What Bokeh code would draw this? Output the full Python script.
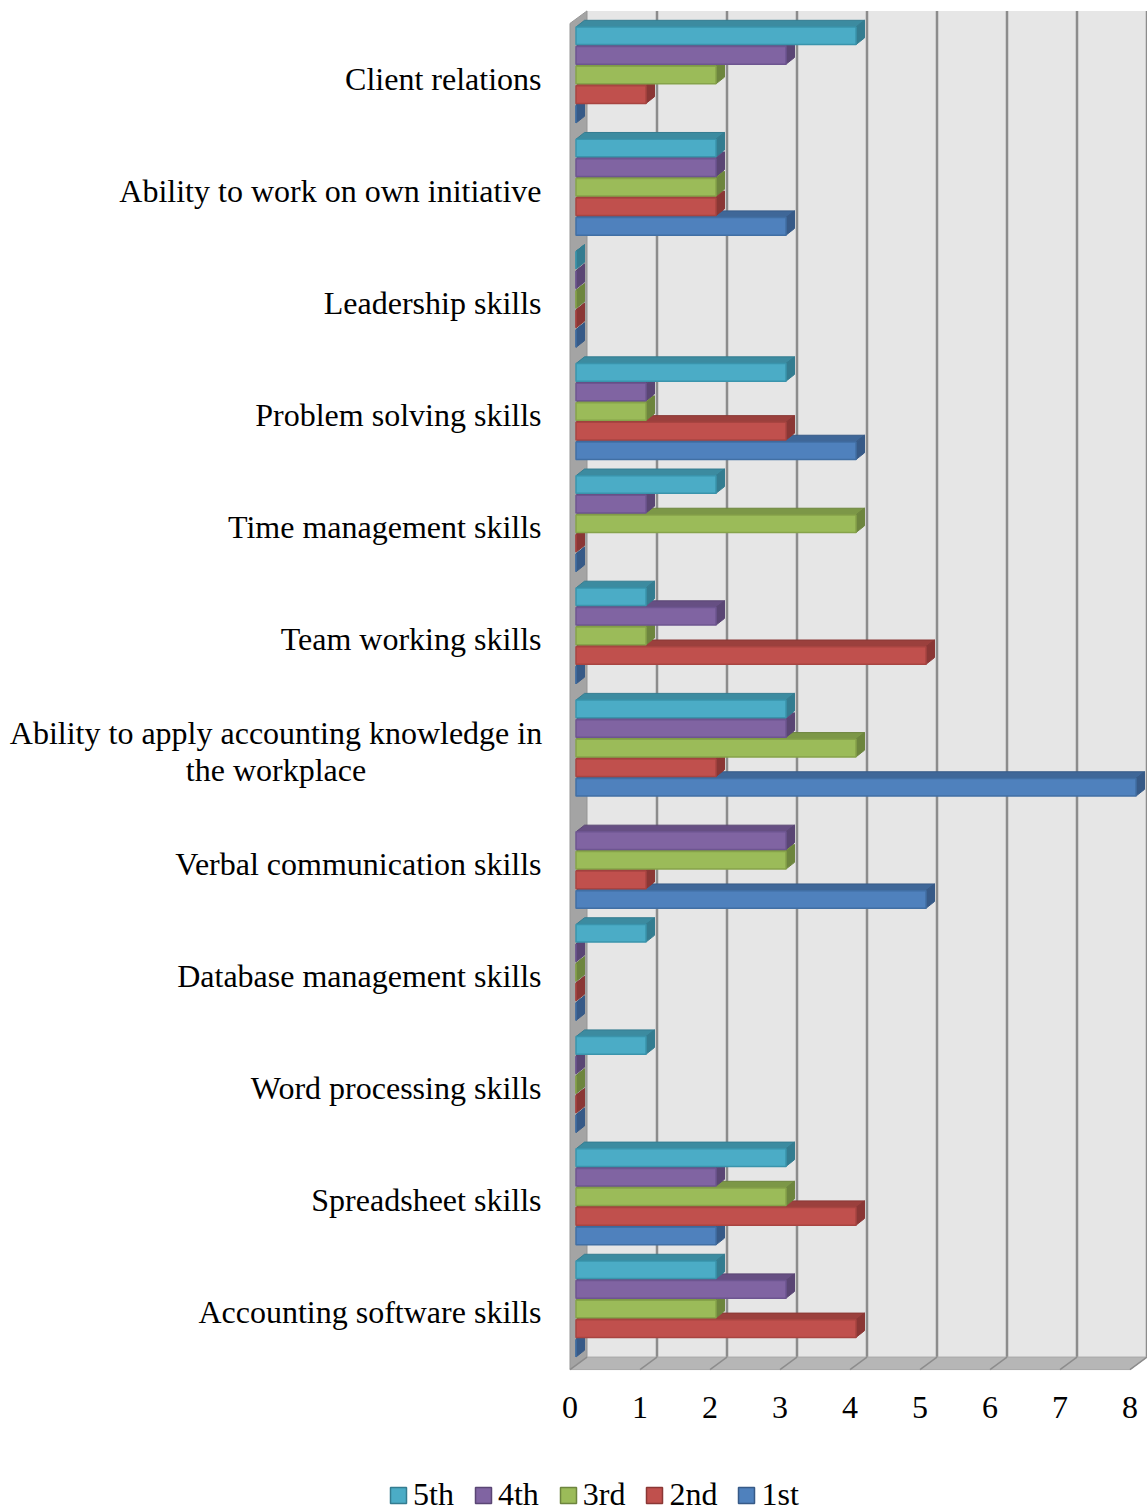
import math

from bokeh.core.properties import value
from bokeh.embed import file_html
from bokeh.layouts import column
from bokeh.models import ColumnDataSource, Legend, LegendItem, Range1d
from bokeh.plotting import figure
from bokeh.resources import INLINE

# ---------------------------------------------------------------- data
categories = [
    "Client relations",
    "Ability to work on own initiative",
    "Leadership skills",
    "Problem solving skills",
    "Time management skills",
    "Team working skills",
    "Ability to apply accounting knowledge in\nthe workplace",
    "Verbal communication skills",
    "Database management skills",
    "Word processing skills",
    "Spreadsheet skills",
    "Accounting software skills",
]
series_names = ["5th", "4th", "3rd", "2nd", "1st"]
vals_5th = [4, 2, 0, 3, 2, 1, 3, None, 1, 1, 3, 2]
vals_4th = [3, 2, 0, 1, 1, 2, 3, 3, 0, 0, 2, 3]
vals_3rd = [2, 2, 0, 1, 4, 1, 4, 3, 0, 0, 3, 2]
vals_2nd = [1, 2, 0, 3, 0, 5, 2, 1, 0, 0, 4, 4]
vals_1st = [0, 3, 0, 4, 0, 0, 8, 5, 0, 0, 2, 0]
x_ticks = [0, 1, 2, 3, 4, 5, 6, 7, 8]

series_values = [vals_5th, vals_4th, vals_3rd, vals_2nd, vals_1st]

# ---------------------------------------------------------------- styling
FONT = "Liberation Serif"
FONT_SIZE = "32px"
front_col = {"5th": "#4BACC6", "4th": "#8064A2", "3rd": "#9BBB59", "2nd": "#C0504D", "1st": "#4F81BD"}
top_col = {"5th": "#3C8BA0", "4th": "#664F83", "3rd": "#7C9747", "2nd": "#9B403D", "1st": "#3F6798"}
side_col = {"5th": "#347C90", "4th": "#5A4674", "3rd": "#6D853E", "2nd": "#8A3735", "1st": "#375A87"}
edge_col = {"5th": "#3A94AC", "4th": "#6D5590", "3rd": "#86A34A", "2nd": "#A84441", "1st": "#416FA4"}

WALL = "#E6E6E6"
SIDE_WALL = "#A4A4A4"
FLOOR = "#B6B6B6"
GRID = "#8C8C8C"

# ---------------------------------------------------------------- geometry
W = 1147
H_MAIN = 1440
H_LEGEND = 1512 - H_MAIN
FRAME_H = 1380

PX_X = 70.0      # pixels per value unit
PX_Y = 112.18    # pixels per category slot
X0_PX = 569.5    # pixel of value 0 on the front plane
TOP_PX = 79.0    # pixel of the first category centre

n_cat = len(categories)
x_max = x_ticks[-1]

# depth of the 3-D box (front plane -> back wall)
BOX_DX = 17.0 / PX_X
BOX_DY = 12.5 / PX_Y
# bars sit slightly behind the front plane and have their own depth
BAR_DX0 = 6.0 / PX_X
BAR_DY0 = 4.5 / PX_Y
BAR_DDX = 8.5 / PX_X
BAR_DDY = 6.7 / PX_Y
BAR_PITCH = 19.6 / PX_Y
BAR_H = 17.6 / PX_Y

LABEL_X = (541.0 - X0_PX) / PX_X
LABEL_DY = 1.0 / PX_Y

x_start = -X0_PX / PX_X
x_end = (W - X0_PX) / PX_X
y_end = (n_cat - 1) + TOP_PX / PX_Y
y_start = (n_cat - 1) - (FRAME_H - TOP_PX) / PX_Y

p = figure(
    width=W, height=H_MAIN,
    x_range=Range1d(x_start, x_end), y_range=Range1d(y_start, y_end),
    output_backend="svg", toolbar_location=None,
    y_axis_location=None,
    min_border_left=0, min_border_right=0, min_border_top=0,
    min_border_bottom=H_MAIN - FRAME_H,
)
p.grid.visible = False
p.outline_line_color = None
p.background_fill_color = "white"
p.border_fill_color = "white"

y_lo = -0.5
y_hi = n_cat - 0.5

# back wall with its vertical gridlines
p.quad(left=BOX_DX, right=x_max + BOX_DX, bottom=y_lo + BOX_DY, top=y_hi + BOX_DY,
       fill_color=WALL, line_color=None)
p.segment(x0=[k + BOX_DX for k in x_ticks[1:]], y0=[y_lo + BOX_DY] * (len(x_ticks) - 1),
          x1=[k + BOX_DX for k in x_ticks[1:]], y1=[y_hi + BOX_DY] * (len(x_ticks) - 1),
          line_color=GRID, line_width=2.5)

# left side wall
p.patch(x=[0, 0, BOX_DX, BOX_DX], y=[y_lo, y_hi, y_hi + BOX_DY, y_lo + BOX_DY],
        fill_color=SIDE_WALL, line_color="#959595", line_width=1)

# floor with slanted tick lines
p.patch(x=[0, x_max, x_max + BOX_DX, BOX_DX], y=[y_lo, y_lo, y_lo + BOX_DY, y_lo + BOX_DY],
        fill_color=FLOOR, line_color="#A8A8A8", line_width=1)
p.segment(x0=x_ticks, y0=[y_lo] * len(x_ticks),
          x1=[k + BOX_DX for k in x_ticks], y1=[y_lo + BOX_DY] * len(x_ticks),
          line_color=GRID, line_width=1.5)

# bars: draw bottom series first so upper bars overlap lower top faces
for j in reversed(range(len(series_names))):
    name = series_names[j]
    vals = series_values[j]
    ys, lefts, rights = [], [], []
    top_xs, top_ys, side_xs, side_ys = [], [], [], []
    for i, v in enumerate(vals):
        if v is None:
            continue
        yc = (n_cat - 1 - i) + BAR_DY0 + (2 - j) * BAR_PITCH
        L = BAR_DX0
        R = BAR_DX0 + v
        T = yc + BAR_H / 2
        B = yc - BAR_H / 2
        ys.append(yc)
        lefts.append(L)
        rights.append(R)
        top_xs.append([L, R, R + BAR_DDX, L + BAR_DDX])
        top_ys.append([T, T, T + BAR_DDY, T + BAR_DDY])
        side_xs.append([R, R, R + BAR_DDX, R + BAR_DDX])
        side_ys.append([B, T, T + BAR_DDY, B + BAR_DDY])
    p.patches(xs=top_xs, ys=top_ys, fill_color=top_col[name], line_color=side_col[name], line_width=1)
    p.patches(xs=side_xs, ys=side_ys, fill_color=side_col[name], line_color=side_col[name], line_width=1)
    p.hbar(y=ys, left=lefts, right=rights, height=BAR_H,
           fill_color=front_col[name], line_color=edge_col[name], line_width=1.5)

# category labels
single = [(c, n_cat - 1 - i) for i, c in enumerate(categories) if "\n" not in c]
multi = [(c, n_cat - 1 - i) for i, c in enumerate(categories) if "\n" in c]
p.text(x=[LABEL_X] * len(single), y=[y + LABEL_DY for _, y in single], text=[c for c, _ in single],
       text_align="right", text_baseline="middle",
       text_font=value(FONT), text_font_size=FONT_SIZE, text_color="black")
FIRST_LINE_W = 531.0 / PX_X
p.text(x=[LABEL_X - FIRST_LINE_W / 2] * len(multi), y=[y + LABEL_DY for _, y in multi],
       text=[c for c, _ in multi],
       text_align="center", text_baseline="middle", text_line_height=1.045,
       text_font=value(FONT), text_font_size=FONT_SIZE, text_color="black")

# value axis
ax = p.xaxis[0]
ax.ticker = x_ticks
ax.axis_line_color = None
ax.major_tick_line_color = None
ax.minor_tick_line_color = None
ax.major_label_standoff = 10
ax.major_label_text_font = FONT
ax.major_label_text_font_size = FONT_SIZE
ax.major_label_text_color = "black"

# ---------------------------------------------------------------- legend strip
lg = figure(
    width=W, height=H_LEGEND, x_range=Range1d(0, 1), y_range=Range1d(0, 1),
    output_backend="svg", toolbar_location=None,
    x_axis_location=None, y_axis_location=None,
    min_border_left=0, min_border_right=0, min_border_top=0, min_border_bottom=0,
)
lg.grid.visible = False
lg.outline_line_color = None
items = []
for name in series_names:
    # a single swatch kept outside the visible range; only its legend entry shows
    src = ColumnDataSource(dict(left=[2.0], right=[3.0], bottom=[2.0], top=[3.0]))
    r = lg.quad(left="left", right="right", bottom="bottom", top="top", source=src,
                fill_color=front_col[name], line_color=side_col[name], line_width=1.5)
    items.append(LegendItem(label=name, renderers=[r]))
legend = Legend(
    items=items, orientation="horizontal", location=(388, -1),
    glyph_width=20, glyph_height=20, label_standoff=5, spacing=19,
    padding=0, margin=0, border_line_color=None, background_fill_alpha=0,
    label_text_font=FONT, label_text_font_size=FONT_SIZE, label_text_color="black",
)
lg.add_layout(legend)

layout = column(p, lg, spacing=0)
open("out.html", "w").write(file_html(layout, INLINE))
